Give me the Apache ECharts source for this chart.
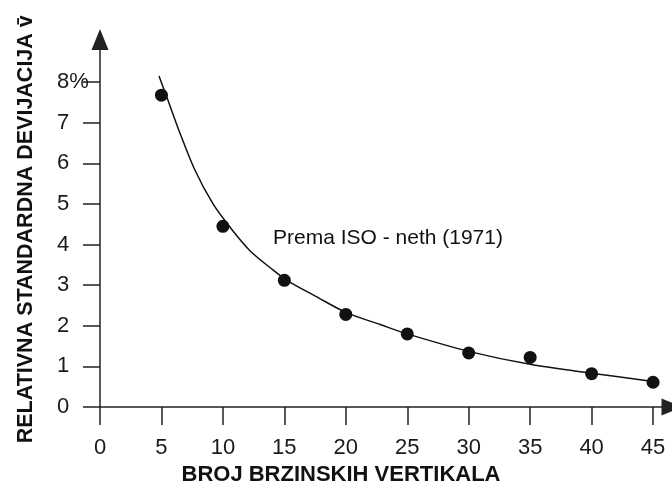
<!DOCTYPE html>
<html>
<head>
    <meta charset="utf-8" />
    <title>ECharts</title>
    <style>
        html, body { margin: 0; padding: 0; background: #fff; }
        #main { width: 672px; height: 487px; }
    </style>
</head>
<body>
    <div id="main"></div>
    <script src="https://cdn.jsdelivr.net/npm/echarts@6/dist/echarts.min.js"></script>
    <script type="text/javascript">
    // izmjerene tocke
    var pointX = [5, 10, 15, 20, 25, 30, 35, 40, 45];
    var pointY = [7.68, 4.45, 3.12, 2.28, 1.8, 1.33, 1.22, 0.82, 0.61];

    // izravnavajuca krivulja (ocitano sa slike)
    var curveX = [4.8, 5.5, 6.5, 7.7, 9.2, 10.6, 12.2, 14.1, 15.2, 17.6, 20, 22.8, 25, 30, 35, 40, 45];
    var curveY = [8.15, 7.58, 6.75, 5.85, 5.0, 4.42, 3.85, 3.37, 3.12, 2.72, 2.33, 2.03, 1.8, 1.37, 1.05, 0.83, 0.63];

    var xTicks = [0, 5, 10, 15, 20, 25, 30, 35, 40, 45];
    var yTicks = [0, 1, 2, 3, 4, 5, 6, 7, 8];

    var pointData = pointX.map(function (x, i) { return [x, pointY[i]]; });
    var curveData = curveX.map(function (x, i) { return [x, curveY[i]]; });

    var chartDom = document.getElementById('main');
    var myChart = echarts.init(chartDom);
    var option;

    var axisColor = '#222';
    var font = '"Liberation Sans", Arial, sans-serif';

    option = {
        animation: false,
        textStyle: { fontFamily: font },
        grid: {
            left: 100,
            right: 0,
            top: 39.5,
            bottom: 80,
            outerBoundsMode: 'none'
        },
        xAxis: {
            type: 'value',
            min: 0,
            max: 46.54,
            name: 'BROJ BRZINSKIH VERTIKALA',
            nameLocation: 'middle',
            nameGap: 56,
            nameTextStyle: {
                fontFamily: font,
                fontWeight: 'bold',
                fontSize: 22,
                color: '#111',
                padding: [0, 90, 0, 0]
            },
            splitLine: { show: false },
            axisLine: {
                onZero: false,
                symbol: ['none', 'triangle'],
                symbolSize: [17, 21],
                lineStyle: { color: axisColor, width: 1.5 }
            },
            axisTick: {
                customValues: xTicks,
                length: 18,
                lineStyle: { color: axisColor, width: 1.5 }
            },
            axisLabel: {
                customValues: xTicks,
                margin: 30,
                fontSize: 22,
                color: '#1a1a1a',
                fontFamily: font
            }
        },
        yAxis: {
            type: 'value',
            min: 0,
            max: 9.05,
            name: 'RELATIVNA STANDARDNA DEVIJACIJA v\u0304',
            nameLocation: 'middle',
            nameGap: 63,
            nameTextStyle: {
                fontFamily: font,
                fontWeight: 'bold',
                fontSize: 21.5,
                color: '#111',
                padding: [0, 12, 0, 0]
            },
            splitLine: { show: false },
            axisLine: {
                onZero: false,
                symbol: ['none', 'triangle'],
                symbolSize: [17, 21],
                lineStyle: { color: axisColor, width: 1.5 }
            },
            axisTick: {
                customValues: yTicks,
                length: 17,
                lineStyle: { color: axisColor, width: 1.5 }
            },
            axisLabel: {
                customValues: yTicks,
                margin: 43,
                align: 'left',
                fontSize: 22,
                color: '#1a1a1a',
                fontFamily: font,
                formatter: function (v) {
                    return v === 8 ? '8%' : String(v);
                }
            }
        },
        graphic: [
            {
                type: 'text',
                left: 273,
                top: 228,
                style: {
                    text: 'Prema ISO - neth (1971)',
                    fontFamily: font,
                    fontSize: 21,
                    fill: '#111'
                }
            }
        ],
        series: [
            {
                type: 'line',
                data: curveData,
                smooth: 0.3,
                showSymbol: false,
                lineStyle: { color: '#111', width: 1.5 },
                z: 2
            },
            {
                type: 'scatter',
                data: pointData,
                symbol: 'circle',
                symbolSize: 13,
                itemStyle: { color: '#111', opacity: 1 },
                z: 3
            }
        ]
    };

    option && myChart.setOption(option);
    </script>
</body>
</html>
